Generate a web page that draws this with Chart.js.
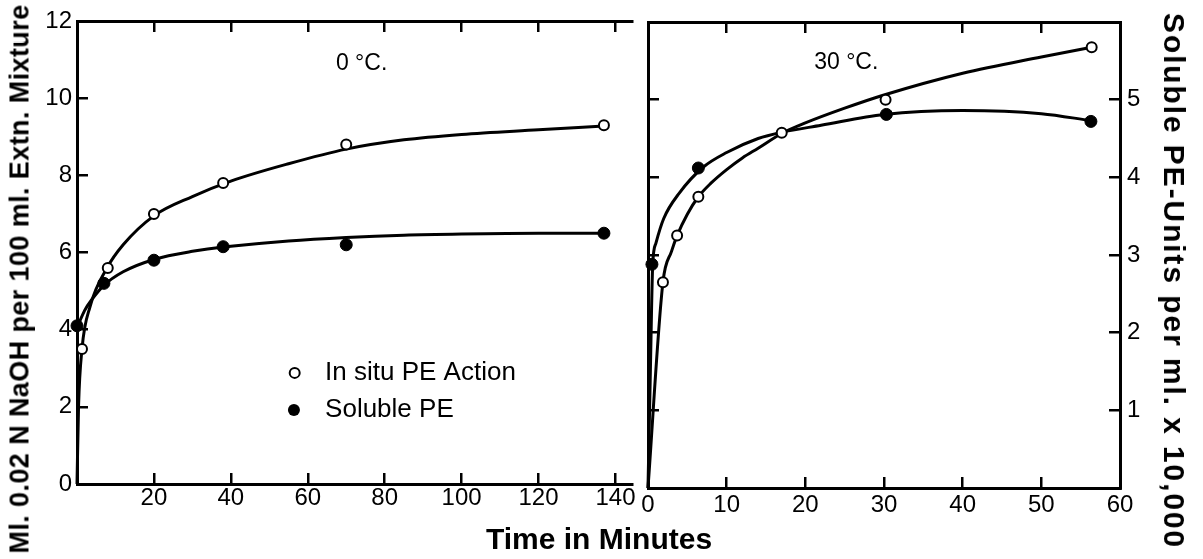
<!DOCTYPE html>
<html>
<head>
<meta charset="utf-8">
<script src="https://cdn.jsdelivr.net/npm/chart.js@4.4.1/dist/chart.umd.min.js"></script>
<style>
    body { margin: 0; background: #fff; width: 1203px; height: 559px; overflow: hidden; position: relative; font-family: 'Liberation Sans', Arial, sans-serif; }
    canvas { position: absolute; top: 0; }
    #chartLeft { left: 0; }
    #chartRight { left: 636px; }
    .axisTitle { position: absolute; white-space: nowrap; font-weight: bold; color: #000; line-height: 1; }
</style>
</head>
<body>
<canvas id="chartLeft" width="644" height="559"></canvas>
<canvas id="chartRight" width="567" height="559"></canvas>
<div class="axisTitle" style="left:599px; top:539px; font-size:30px; transform:translate(-50%,-50%);">Time in Minutes</div>
<div class="axisTitle" style="left:20px; top:279px; font-size:27px; letter-spacing:0.4px; transform:translate(-50%,-50%) rotate(-90deg);">Ml. 0.02 N NaOH per 100 ml. Extn. Mixture</div>
<div class="axisTitle" style="left:1174px; top:281px; font-size:30px; letter-spacing:1.9px; transform:translate(-50%,-50%) rotate(90deg);">Soluble PE-Units per ml. x 10,000</div>
<script>
// 0 °C. panel (ml NaOH, left axis)
const coldInsituX = [1.3, 8, 20, 38, 70, 137];
const coldInsituY = [3.5, 5.6, 7.0, 7.8, 8.8, 9.3];
const coldSolubleX = [0, 7, 20, 38, 70, 137];
const coldSolubleY = [4.1, 5.2, 5.8, 6.15, 6.2, 6.5];
// smooth curves as drawn through the 0 °C. points
const coldInsituCurveX = [0, 0.4, 1.3, 3.4, 7.8, 12, 20, 30, 40, 55, 70, 85, 100, 120, 137];
const coldInsituCurveY = [0, 2.0, 3.5, 4.6, 5.6, 6.2, 6.95, 7.45, 7.85, 8.3, 8.68, 8.92, 9.06, 9.18, 9.28];
const coldSolubleCurveX = [0, 2, 4, 7, 12, 20, 30, 40, 55, 70, 85, 100, 120, 137];
const coldSolubleCurveY = [4.05, 4.5, 4.8, 5.15, 5.5, 5.82, 6.03, 6.16, 6.3, 6.39, 6.45, 6.48, 6.5, 6.5];

// 30 °C. panel: in situ in ml NaOH, soluble PE in units per ml x 10,000 (right axis)
const warmInsituX = [1.9, 3.7, 6.4, 17, 30.2, 56.4];
const warmInsituY = [5.3, 6.5, 7.5, 9.15, 10.0, 11.35];
const warmSolubleX = [0.5, 6.4, 30.3, 56.3];
const warmSolubleY = [2.88, 4.12, 4.81, 4.72];
const warmInsituCurveX = [0, 1.9, 3, 3.7, 5, 6.4, 8, 10, 12, 14, 17, 20, 25, 30, 40, 50, 56.4];
const warmInsituCurveY = [0, 5.3, 6.1, 6.5, 7.05, 7.5, 7.85, 8.2, 8.5, 8.75, 9.13, 9.4, 9.78, 10.12, 10.68, 11.1, 11.35];
const warmSolubleCurveX = [0, 0.3, 0.6, 1, 2, 4, 7, 10, 14, 17, 22, 30, 40, 50, 56.3];
const warmSolubleCurveY = [0, 1.5, 2.88, 3.15, 3.47, 3.8, 4.13, 4.32, 4.5, 4.58, 4.67, 4.81, 4.86, 4.82, 4.73];

const FONT = "'Liberation Sans', Arial, sans-serif";

function pts(xs, ys) {
    return xs.map((x, i) => ({ x: x, y: ys[i] }));
}

// tick values from lo to hi on the step
function setTicks(step, lo, hi) {
    return function(scale) {
        const list = [];
        for (let v = lo; v <= hi + 1e-9; v += step) {
            list.push({ value: Math.round(v * 1000) / 1000 });
        }
        scale.ticks = list;
    };
}

function openDots(label, data, axis) {
    return {
        label: label, data: data, yAxisID: axis || 'y',
        showLine: false, pointStyle: 'circle', pointRadius: 5, pointBorderWidth: 2,
        pointBackgroundColor: '#fff', pointBorderColor: '#000', order: 0, clip: false
    };
}

function filledDots(label, data, axis) {
    return {
        label: label, data: data, yAxisID: axis || 'y',
        showLine: false, pointStyle: 'circle', pointRadius: 6, pointBorderWidth: 1,
        pointBackgroundColor: '#000', pointBorderColor: '#000', order: 0, clip: false
    };
}

function curve(label, data, axis) {
    return {
        label: label, data: data, yAxisID: axis || 'y',
        showLine: true, borderColor: '#000', borderWidth: 3, pointRadius: 0,
        cubicInterpolationMode: 'monotone', order: 1, clip: false
    };
}

function axis(position, min, max, step, opts) {
    return {
        type: 'linear',
        position: position,
        min: min,
        max: max,
        border: { display: true, color: '#000', width: 3 },
        grid: { drawOnChartArea: false, color: '#000', lineWidth: 2.5, tickLength: -11 },
        ticks: {
            display: opts.labels,
            padding: opts.padding || 0,
            color: '#000',
            font: { family: FONT, size: 24 }
        },
        afterBuildTicks: setTicks(step, opts.lo, opts.hi),
        afterFit: function(scale) {
            if (opts.width !== undefined) scale.width = opts.width;
            if (opts.height !== undefined) scale.height = opts.height;
            // no extra room for half labels at the ends
            scale.paddingTop = 0;
            scale.paddingBottom = 0;
            scale.paddingLeft = 0;
            scale.paddingRight = 0;
        }
    };
}

// small text drawn inside the plot: panel temperature and legend
const notesPlugin = {
    id: 'notes',
    afterDraw(chart, args, opts) {
        const ctx = chart.ctx;
        const sx = chart.scales.x, sy = chart.scales.y;
        ctx.save();
        ctx.fillStyle = '#000';
        ctx.strokeStyle = '#000';
        ctx.textBaseline = 'middle';
        (opts.texts || []).forEach(t => {
            ctx.font = t.size + 'px ' + FONT;
            ctx.textAlign = t.align || 'left';
            ctx.fillText(t.text, sx.getPixelForValue(t.x), sy.getPixelForValue(t.y));
        });
        (opts.keys || []).forEach(k => {
            const px = sx.getPixelForValue(k.x), py = sy.getPixelForValue(k.y);
            ctx.beginPath();
            ctx.arc(px, py, k.filled ? 6 : 5, 0, Math.PI * 2);
            if (k.filled) {
                ctx.fill();
            } else {
                ctx.fillStyle = '#fff';
                ctx.fill();
                ctx.lineWidth = 2;
                ctx.stroke();
                ctx.fillStyle = '#000';
            }
        });
        ctx.restore();
    }
};

const common = {
    responsive: false,
    animation: false,
    layout: { padding: 0 },
    plugins: { legend: { display: false }, tooltip: { enabled: false } }
};

new Chart(document.getElementById('chartLeft').getContext('2d'), {
    type: 'scatter',
    data: {
        datasets: [
            openDots('In situ PE Action', pts(coldInsituX, coldInsituY)),
            filledDots('Soluble PE', pts(coldSolubleX, coldSolubleY)),
            curve('In situ PE Action (curve)', pts(coldInsituCurveX, coldInsituCurveY)),
            curve('Soluble PE (curve)', pts(coldSolubleCurveX, coldSolubleCurveY))
        ]
    },
    options: Object.assign({}, common, {
        layout: { padding: { right: 12 } },
        plugins: Object.assign({}, common.plugins, {
            notes: {
                texts: [
                    { text: '0 °C.', x: 74, y: 10.9, size: 23, align: 'center' },
                    { text: 'In situ PE Action', x: 64.5, y: 2.88, size: 26 },
                    { text: 'Soluble PE', x: 64.5, y: 1.92, size: 26 }
                ],
                keys: [
                    { x: 56.6, y: 2.88, filled: false },
                    { x: 56.4, y: 1.92, filled: true }
                ]
            }
        }),
        scales: {
            x: axis('bottom', 0, 144.3, 20, { labels: true, padding: 11, lo: 20, hi: 140, height: 75 }),
            x2: axis('top', 0, 144.3, 20, { labels: false, lo: 20, hi: 140, height: 21 }),
            y: axis('left', 0, 12, 2, { labels: true, padding: 16, lo: 0, hi: 12, width: 77 })
        }
    }),
    plugins: [notesPlugin]
});

new Chart(document.getElementById('chartRight').getContext('2d'), {
    type: 'scatter',
    data: {
        datasets: [
            openDots('In situ PE Action', pts(warmInsituX, warmInsituY)),
            filledDots('Soluble PE', pts(warmSolubleX, warmSolubleY), 'y2'),
            curve('In situ PE Action (curve)', pts(warmInsituCurveX, warmInsituCurveY)),
            curve('Soluble PE (curve)', pts(warmSolubleCurveX, warmSolubleCurveY), 'y2')
        ]
    },
    options: Object.assign({}, common, {
        plugins: Object.assign({}, common.plugins, {
            notes: {
                texts: [
                    { text: '30 °C.', x: 25.2, y: 10.95, size: 23, align: 'center' }
                ]
            }
        }),
        scales: {
            x: axis('bottom', 0, 60, 10, { labels: true, padding: 14, lo: 0, hi: 60, height: 71 }),
            x2: axis('top', 0, 60, 10, { labels: false, lo: 10, hi: 50, height: 22 }),
            y: axis('left', 0, 12, 2, { labels: false, lo: 2, hi: 10, width: 12 }),
            y2: axis('right', 0, 6, 1, { labels: true, padding: 18, lo: 1, hi: 5, width: 83 })
        }
    }),
    plugins: [notesPlugin]
});
</script>
</body>
</html>
